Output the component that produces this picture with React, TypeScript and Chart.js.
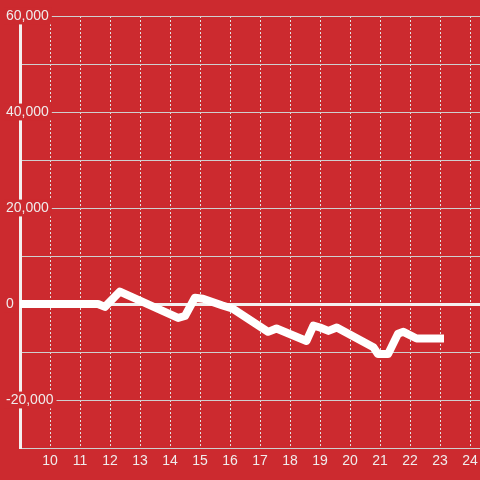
import React, { useEffect, useRef } from 'react';
import { Chart, registerables } from 'chart.js';

Chart.register(...registerables);

// Hours of the day (x) and running value (y)
const hours = [9, 11.6, 11.83, 12.33, 14.27, 14.5, 14.83, 15.1, 15.75, 16.1, 17.27, 17.55, 18.55, 18.78, 19.0, 19.28, 19.56, 20.78, 20.93, 21.27, 21.6, 21.78, 22.22, 23];
const values = [0, 0, -600, 2600, -2900, -2500, 1300, 1100, -300, -1000, -5800, -5100, -7700, -4500, -4900, -5600, -4900, -9000, -10400, -10400, -6200, -5800, -7200, -7200];

const xTicks = [10, 11, 12, 13, 14, 15, 16, 17, 18, 19, 20, 21, 22, 23, 24];
const yLabelled = [60000, 40000, 20000, 0, -20000];

const RED = '#cc2a2f';
const TEXT = '#f0ecec';
const FONT = "'Liberation Sans', Arial, sans-serif";

export default function App() {
  const ref = useRef<HTMLCanvasElement>(null);

  useEffect(() => {
    document.body.style.margin = '0';
    document.body.style.background = RED;
    const chart = new Chart(ref.current as HTMLCanvasElement, {
      type: 'line',
      data: {
        datasets: [
          {
            data: hours.map((h, i) => ({ x: h, y: values[i] })),
            borderColor: '#ffffff',
            borderWidth: 8,
            borderCapStyle: 'square',
            borderJoinStyle: 'round',
            pointRadius: 0,
            fill: false,
            tension: 0,
          },
        ],
      },
      options: {
        responsive: false,
        animation: false,
        layout: { padding: { top: 16, left: 0, right: 0, bottom: 0 } },
        plugins: { legend: { display: false }, tooltip: { enabled: false } },
        scales: {
          x: {
            type: 'linear',
            min: 9,
            max: 24.333,
            afterBuildTicks: (s: any) => {
              s.ticks = xTicks.map((v) => ({ value: v }));
            },
            afterFit: (s: any) => {
              s.height = 32;
              s.paddingLeft = 0;
              s.paddingRight = 0;
            },
            grid: { color: '#e2e2e2', lineWidth: 1, drawTicks: false },
            border: { display: false, dash: [2, 2] },
            ticks: {
              color: TEXT,
              font: { family: FONT, size: 14 },
              padding: 5,
              maxRotation: 0,
              autoSkip: false,
              callback: (v: any) => String(v),
            },
          },
          y: {
            type: 'linear',
            min: -30000,
            max: 60000,
            afterFit: (s: any) => {
              s.width = 20;
              s.paddingTop = 0;
              s.paddingBottom = 0;
            },
            grid: {
              color: (ctx: any) => (ctx.tick && ctx.tick.value === 0 ? '#f4f0f0' : '#cfcfcf'),
              lineWidth: (ctx: any) => (ctx.tick && ctx.tick.value === 0 ? 3 : 1),
              drawTicks: false,
            },
            border: { display: true, color: '#f4f0f0', width: 3 },
            ticks: {
              stepSize: 10000,
              color: TEXT,
              font: { family: FONT, size: 14 },
              mirror: true,
              padding: -14,
              showLabelBackdrop: (ctx: any) => !!ctx.tick && yLabelled.includes(ctx.tick.value),
              backdropColor: RED,
              backdropPadding: { top: 0, bottom: 0, left: 2, right: 3 },
              callback: (v: any) => (yLabelled.includes(v) ? Number(v).toLocaleString('en-US') : ''),
            },
          },
        },
      },
    } as any);
    return () => chart.destroy();
  }, []);

  return (
    <div style={{ position: 'fixed', left: 0, top: 0, width: 480, height: 480, background: RED }}>
      <canvas ref={ref} width={480} height={480} />
    </div>
  );
}
